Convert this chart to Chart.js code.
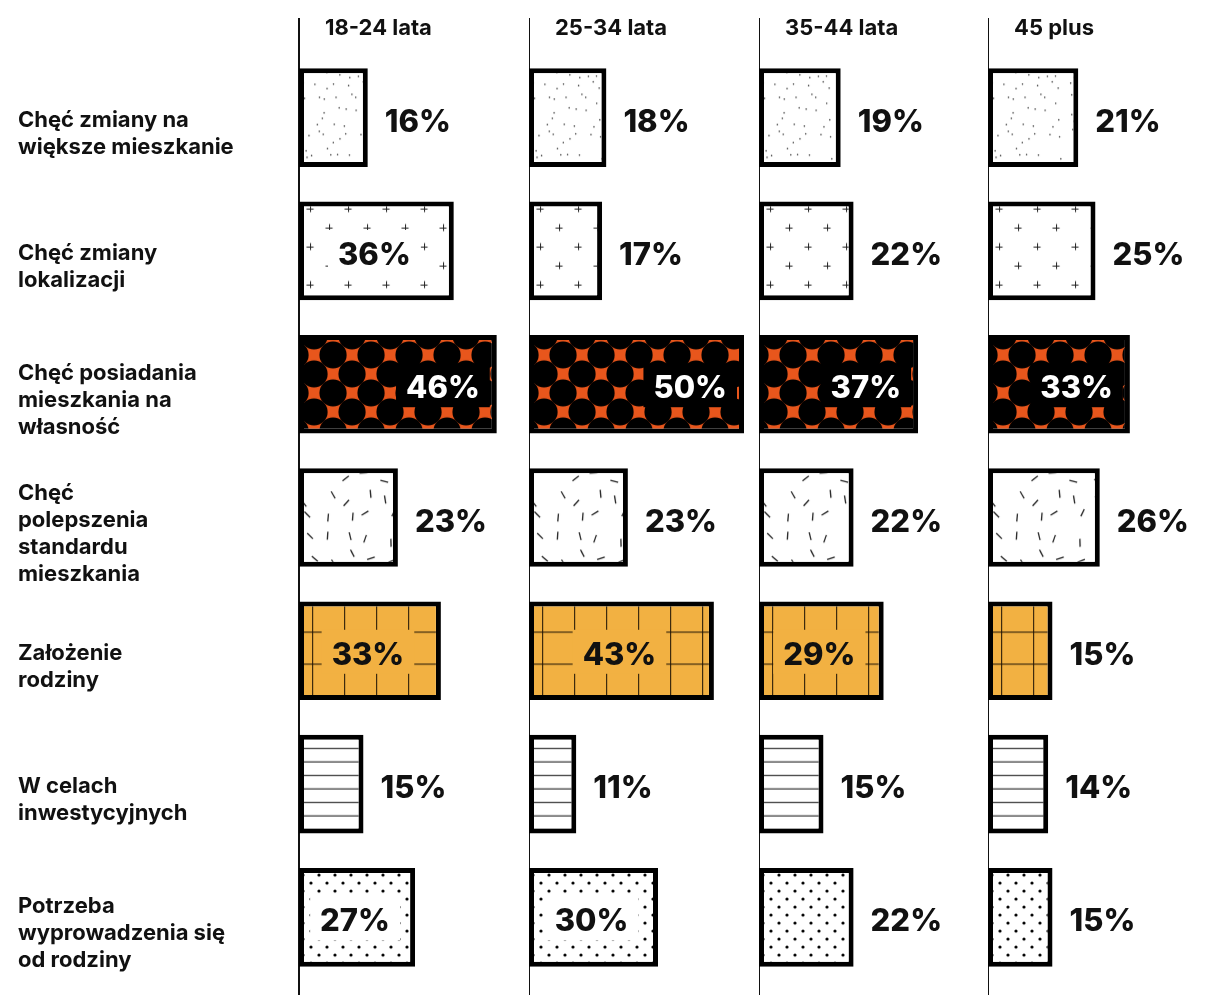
<!DOCTYPE html>
<html lang="pl">
<head>
<meta charset="UTF-8">
<title>Powody zmiany mieszkania</title>
<script src="https://cdn.jsdelivr.net/npm/chart.js@4"></script>
<style>
  html, body { margin: 0; padding: 0; background: #fff; overflow: hidden; }
  #wrap { position: relative; width: 1205px; height: 995px; overflow: hidden; }
  #wrap canvas { position: absolute; top: 0; }
</style>
</head>
<body>
<div id="wrap">
  <canvas id="col0" width="529" height="995" style="left:0"></canvas>
  <canvas id="col1" width="230" height="995" style="left:529px"></canvas>
  <canvas id="col2" width="230" height="995" style="left:759px"></canvas>
  <canvas id="col3" width="230" height="995" style="left:988px"></canvas>
</div>
<script>
// dane
const ageGroups = ['18-24 lata', '25-34 lata', '35-44 lata', '45 plus'];
const reasons = [
  ['Chęć zmiany na', 'większe mieszkanie'],
  ['Chęć zmiany', 'lokalizacji'],
  ['Chęć posiadania', 'mieszkania na', 'własność'],
  ['Chęć', 'polepszenia', 'standardu', 'mieszkania'],
  ['Założenie', 'rodziny'],
  ['W celach', 'inwestycyjnych'],
  ['Potrzeba', 'wyprowadzenia się', 'od rodziny']
];
const values1824 = [16, 36, 46, 23, 33, 15, 27];
const values2534 = [18, 17, 50, 23, 43, 11, 30];
const values3544 = [19, 22, 37, 22, 29, 15, 22];
const values45plus = [21, 25, 33, 26, 15, 14, 15];

const font = 'Inter, "Liberation Sans", Arial, sans-serif';
const ink = '#111';
const orange = '#e8561c';
const yellow = '#f2b142';
const colWidth = 230;   // px per column
const pxPerPct = 4.3;   // bar length per 1%
const insideFrom = 27;  // labels go inside bars from this value

// pattern tiles
function seeded(seed) {
  let s = seed;
  return () => (s = (s * 16807) % 2147483647) / 2147483647;
}
function tile(w, h, bg, draw) {
  const c = document.createElement('canvas');
  c.width = w; c.height = h;
  const g = c.getContext('2d');
  g.fillStyle = bg;
  g.fillRect(0, 0, w, h);
  draw(g, w, h);
  return c;
}

// jittered dots
const speckle = tile(132, 96, '#fff', (g, w, h) => {
  const r = seeded(7);
  g.fillStyle = '#222';
  for (let y = 0; y < h; y += 12) {
    for (let x = 0; x < w; x += 11) {
      if (r() < 0.15) continue;
      g.beginPath();
      g.arc(x + 1 + r() * 9, y + 1 + r() * 10, 0.75, 0, Math.PI * 2);
      g.fill();
    }
  }
});
const plus = tile(38, 38, '#fff', g => {
  g.strokeStyle = '#222'; g.lineWidth = 1;
  [[4, 4], [23, 23]].forEach(([x, y]) => {
    g.beginPath();
    g.moveTo(x - 3.5, y + 0.5); g.lineTo(x + 3.5, y + 0.5);
    g.moveTo(x + 0.5, y - 3.5); g.lineTo(x + 0.5, y + 3.5);
    g.stroke();
  });
});
const circles = tile(38, 38, orange, g => {
  g.fillStyle = '#000';
  [[0, 0], [38, 0], [0, 38], [38, 38], [19, 19]].forEach(([x, y]) => {
    g.beginPath(); g.arc(x, y, 13.6, 0, Math.PI * 2); g.fill();
  });
});
// jittered short strokes
const dashes = tile(120, 100, '#fff', (g, w, h) => {
  const r = seeded(31);
  g.strokeStyle = '#222'; g.lineWidth = 1.3;
  for (let y = 0; y < h; y += 20) {
    for (let x = 0; x < w; x += 20) {
      if (r() < 0.12) continue;
      const cx = x + 4 + r() * 12, cy = y + 4 + r() * 12, a = r() * Math.PI, l = 4;
      g.beginPath();
      g.moveTo(cx - Math.cos(a) * l, cy - Math.sin(a) * l);
      g.lineTo(cx + Math.cos(a) * l, cy + Math.sin(a) * l);
      g.stroke();
    }
  }
});
const grid = tile(32, 32, yellow, g => {
  g.fillStyle = 'rgba(30,20,5,0.85)';
  g.fillRect(0, 0, 1.2, 32);
  g.fillRect(0, 0, 32, 1.2);
});
const lines = tile(8, 27, '#fff', g => {
  g.fillStyle = '#333';
  g.fillRect(0, 0, 8, 1.2);
  g.fillRect(0, 13.5, 8, 1.2);
});
const dots = tile(16, 16, '#fff', g => {
  g.fillStyle = '#000';
  [[4, 4], [12, 12]].forEach(([x, y]) => {
    g.beginPath(); g.arc(x, y, 1.6, 0, Math.PI * 2); g.fill();
  });
});

const rowStyles = [
  { tile: speckle, bg: '#fff', text: ink, offset: [0, 0] },
  { tile: plus, bg: '#fff', text: ink, offset: [7, 3] },
  { tile: circles, bg: '#000', text: '#fff', offset: [15, 1], labelEnd: true },
  { tile: dashes, bg: '#fff', text: ink, offset: [0, 0] },
  { tile: grid, bg: yellow, text: ink, offset: [13, 30] },
  { tile: lines, bg: '#fff', text: ink, offset: [0, 13] },
  { tile: dots, bg: '#fff', text: ink, offset: [0, 3] }
];

const scratch = document.createElement('canvas').getContext('2d');
function makePatterns() {
  return rowStyles.map(s => scratch.createPattern(s.tile, 'repeat'));
}

// keep every pattern anchored to its own bar
const patternAlign = {
  id: 'patternAlign',
  beforeDatasetsDraw(chart) {
    const meta = chart.getDatasetMeta(0);
    const pats = chart.data.datasets[0].backgroundColor;
    meta.data.forEach((bar, i) => {
      const top = bar.y - bar.height / 2;
      const [dx, dy] = rowStyles[i].offset;
      pats[i].setTransform(new DOMMatrix().translate(bar.base + dx, top + dy));
    });
  }
};

// vertical axis line + column header
const columnFrame = {
  id: 'columnFrame',
  beforeDatasetsDraw(chart, args, opts) {
    const { ctx, chartArea } = chart;
    ctx.save();
    ctx.strokeStyle = ink;
    ctx.lineWidth = 2;
    ctx.beginPath();
    ctx.moveTo(chartArea.left, 18);
    ctx.lineTo(chartArea.left, chart.height);
    ctx.stroke();
    ctx.font = `700 22px ${font}`;
    ctx.fillStyle = ink;
    ctx.textBaseline = 'middle';
    ctx.fillText(opts.title, chartArea.left + 26, 28);
    ctx.restore();
  }
};

// percent labels
const valueLabels = {
  id: 'valueLabels',
  afterDatasetsDraw(chart) {
    const { ctx } = chart;
    const meta = chart.getDatasetMeta(0);
    const vals = chart.data.datasets[0].data;
    ctx.save();
    ctx.font = `800 31px ${font}`;
    ctx.textBaseline = 'alphabetic';
    meta.data.forEach((bar, i) => {
      const v = vals[i];
      const text = v + '%';
      const w = ctx.measureText(text).width;
      const st = rowStyles[i];
      let x;
      if (v >= insideFrom) {
        x = st.labelEnd ? bar.x - 17 - w : (bar.base + bar.x) / 2 - 2 - w / 2;
        ctx.fillStyle = st.bg;
        ctx.fillRect(x - 10, bar.y - 21, w + 20, 44);
        ctx.fillStyle = st.text;
      } else {
        x = bar.x + 17;
        ctx.fillStyle = ink;
      }
      ctx.fillText(text, x, bar.y + 14);
    });
    ctx.restore();
  }
};

function makeChart(id, k, values, withLabels) {
  return new Chart(document.getElementById(id), {
    type: 'bar',
    data: {
      labels: reasons,
      datasets: [{
        data: values,
        backgroundColor: makePatterns(),
        borderColor: '#000',
        borderWidth: 5,
        borderSkipped: false,
        barPercentage: 0.74,
        categoryPercentage: 1
      }]
    },
    options: {
      indexAxis: 'y',
      responsive: false,
      animation: false,
      events: [],
      layout: {
        autoPadding: false,
        padding: { top: 51, bottom: 11, left: withLabels ? 18 : 0, right: 0 }
      },
      scales: {
        x: { display: false, min: 0, max: colWidth / pxPerPct },
        y: {
          display: withLabels,
          grid: { display: false },
          border: { display: false },
          ticks: {
            color: ink,
            crossAlign: 'far',
            labelOffset: 16,
            padding: 0,
            font: { family: font, size: 22, weight: '700', lineHeight: 27 / 22 }
          },
          afterFit(scale) {
            // same plot height in every column
            scale.paddingTop = 0;
            scale.paddingBottom = 0;
            if (withLabels) scale.width = 281;
          }
        }
      },
      plugins: {
        legend: { display: false },
        tooltip: { enabled: false },
        columnFrame: { title: ageGroups[k] }
      }
    },
    plugins: [columnFrame, patternAlign, valueLabels]
  });
}

function build() {
  makeChart('col0', 0, values1824, true);
  makeChart('col1', 1, values2534, false);
  makeChart('col2', 2, values3544, false);
  makeChart('col3', 3, values45plus, false);
}

Promise.all([
  document.fonts.load(`700 22px ${font}`),
  document.fonts.load(`800 31px ${font}`)
]).then(build, build);
</script>
</body>
</html>
